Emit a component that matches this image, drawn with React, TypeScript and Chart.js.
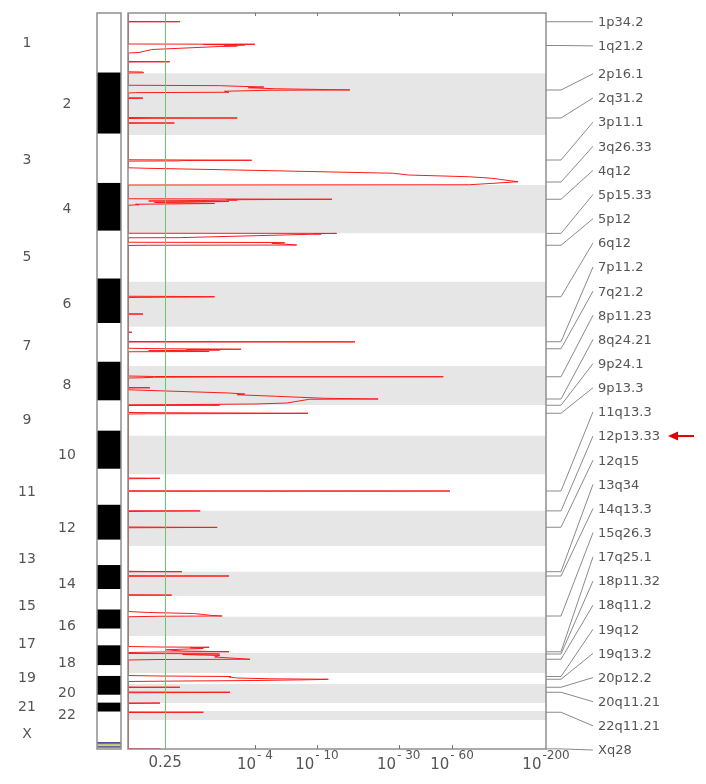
import React, { useEffect, useRef } from 'react';
import { Chart, registerables } from 'chart.js';
Chart.register(...registerables);

// Chromosomes and their plotted lengths (Mb, as drawn)
const chromNames = ['1', '2', '3', '4', '5', '6', '7', '8', '9', '10', '11', '12', '13', '14', '15', '16', '17', '18', '19', '20', '21', '22', 'X'];
const chromLength = [241, 247, 200, 193, 194, 180, 157, 156, 123, 154, 146, 141, 103, 97, 83, 77, 68, 80, 44, 76, 32, 36, 116];

// Amplification profiles: [position within chromosome (Mb), -log10(q)]
const amp1 = [[0, 0], [34, 0], [34.8, 0.93], [35.5, 0], [124, 0], [125, 4.0], [126, 1.6], [128, 3.4], [130, 2.4], [132, 3.0], [134, 2.2], [138, 1.4], [146, 0.35], [158, 0.15], [160, 0], [194, 0], [195, 0.7], [196, 0], [235, 0], [236, 0.2], [239, 0.22], [240, 0], [241, 0]];
const amp2 = [[0, 0], [48, 0], [49.6, 2.2], [52, 3.0], [55, 4.6], [58, 3.6], [62, 5.5], [66.8, 15.7], [68, 5.0], [72, 2.4], [76, 2.6], [77.6, 0.1], [79, 0], [98, 0], [98.8, 0.21], [100, 0.2], [101, 0], [177, 0], [178, 0.5], [179, 3.0], [180, 0.4], [181, 0], [198, 0], [199, 0.8], [200, 0], [247, 0]];
const amp3 = [[0, 0], [99, 0], [100, 1.2], [101, 3.8], [102, 1.0], [103.5, 0.9], [104.5, 0], [131, 0], [133, 0.25], [140, 3.0], [153, 28], [160, 34], [167, 75], [173, 100], [187, 140], [199, 75], [200, 0]];
const amp4 = [[0, 0], [55, 0], [57, 12.3], [57.5, 8.0], [58, 5.5], [59, 2.5], [60, 3.0], [62, 1.5], [64, 0.3], [66, 2.6], [70, 0.4], [74, 2.0], [77, 0.1], [79, 0.15], [81, 0], [193, 0]];
const amp5 = [[0, 0], [0.5, 13.1], [2, 9.5], [3, 10.6], [17.6, 0.93], [18, 0], [36, 0], [37, 5.2], [38, 6.3], [40, 5.2], [47, 7.5], [48, 0.3], [49, 0], [194, 0]];
const amp6 = [[0, 0], [58, 0], [59, 1.2], [60, 2.0], [61, 1.5], [62, 0.4], [63, 0], [128, 0], [129, 0.21], [130, 0], [180, 0]];
const amp7 = [[0, 0], [21, 0], [22, 0.05], [23, 0], [59, 0], [60, 3.8], [60.5, 16.8], [61, 0], [86, 0], [87, 0.2], [88, 0.6], [89, 1.6], [90, 3.2], [91, 1.1], [93, 2.2], [96, 0.3], [99, 1.8], [100, 0], [157, 0]];
const amp8 = [[0, 0], [40, 0], [42, 0.4], [43, 53.6], [43.5, 9.0], [44, 1.9], [45, 0.4], [47, 0.2], [48, 0], [86, 0], [87, 0.32], [88, 0], [95, 0], [96, 0.1], [108, 2.6], [112, 3.4], [115, 3.0], [121, 5.5], [129, 11], [132, 22.9], [133, 9.0], [148, 6.5], [152, 4.0], [155, 0.6], [156, 0]];
const amp9 = [[0, 0], [0.5, 2.2], [1.5, 0.2], [2, 0], [30, 0], [31, 0.7], [33, 8.8], [34, 6.3], [35, 0.3], [36, 0], [123, 0]];
const amp10 = [[0, 0], [154, 0]];
const amp11 = [[0, 0], [15, 0], [16, 0.5], [17, 0.3], [18, 0], [66, 0], [66.5, 0.8], [67, 58.4], [67.5, 30], [68, 0], [146, 0]];
const amp12 = [[0, 0], [0.5, 1.5], [2, 0.4], [3, 0], [65, 0], [66, 0.9], [66.5, 2.1], [67, 1.2], [68, 0], [141, 0]];
const amp13 = [[0, 0], [101, 0], [102, 0.3], [102.8, 0.98], [103, 0]];
const amp14 = [[0, 0], [16, 0], [17, 2.6], [18, 0], [92, 0], [93, 0.5], [93.5, 0.74], [94, 0], [97, 0]];
const amp15 = [[0, 0], [62, 0], [66, 0.3], [70, 1.3], [74, 1.6], [78, 1.9], [80, 2.3], [81, 0.5], [83, 0]];
const amp16 = [[0, 0], [77, 0]];
const amp17 = [[0, 0], [42, 0], [44, 0.5], [45, 1.8], [47, 1.2], [50, 1.6], [55, 0.6], [60, 1.0], [63, 2.6], [64, 0.5], [66, 0], [68, 0]];
const amp18 = [[0, 0], [2, 0], [3, 2.0], [4, 2.2], [6, 1.0], [10, 2.2], [16, 2.0], [25, 3.7], [26, 0.5], [28, 0], [80, 0]];
const amp19 = [[0, 0], [10, 0], [12, 0.5], [14, 2.7], [16, 2.6], [20, 3.0], [23, 5.0], [25, 11.7], [27, 9.0], [30, 4.0], [32, 1.0], [34, 0], [44, 0]];
const amp20 = [[0, 0], [12, 0], [12.5, 0.16], [13, 0.93], [14, 0], [32, 0], [33, 2.65], [34, 1.25], [35, 0], [76, 0]];
const amp21 = [[0, 0], [0.3, 0.5], [1, 0.24], [2, 0], [32, 0]];
const amp22 = [[0, 0], [4, 0], [5, 1.6], [6, 0], [36, 0]];
const ampX = [[0, 0], [114, 0], [115, 0.5], [116, 0.5]];
const profiles = [amp1, amp2, amp3, amp4, amp5, amp6, amp7, amp8, amp9, amp10, amp11, amp12, amp13, amp14, amp15, amp16, amp17, amp18, amp19, amp20, amp21, amp22, ampX];

// Peak (cytoband) labels
const peakNames = ['1p34.2', '1q21.2', '2p16.1', '2q31.2', '3p11.1', '3q26.33', '4q12', '5p15.33', '5p12', '6q12', '7p11.2', '7q21.2', '8p11.23', '8q24.21', '9p24.1', '9p13.3', '11q13.3', '12p13.33', '12q15', '13q34', '14q13.3', '15q26.3', '17q25.1', '18p11.32', '18q11.2', '19q12', '19q13.2', '20p12.2', '20q11.21', '22q11.21', 'Xq28'];
const peakChrom = [1, 1, 2, 2, 3, 3, 4, 5, 5, 6, 7, 7, 8, 8, 9, 9, 11, 12, 12, 13, 14, 15, 17, 18, 18, 19, 19, 20, 20, 22, 23];
const peakPos = [35, 130, 67, 179, 100, 188, 57, 0.5, 48, 60, 60, 88, 43, 132, 1, 33, 67, 0.5, 66, 102.8, 17, 80, 63, 4, 25, 14, 25, 13, 33, 5, 115.5];
const highlightedPeak = '12p13.33';

// q-value axis
const tickQ = [0.25, 1e-4, 1e-10, 1e-30, 1e-60, 1e-200];
const tickBase = ['0.25', '10', '10', '10', '10', '10'];
const tickExp = ['', '- 4', '- 10', '- 30', '- 60', '-200'];
const thresholdQ = 0.25;
const maxScore = 200;

const toX = (score: number) => Math.log10(1 + score);
const qToX = (q: number) => toX(-Math.log10(q));

export default function App() {
  const ref = useRef<HTMLCanvasElement>(null);
  useEffect(() => {
    if (!ref.current) return;
    const starts: number[] = [];
    let acc = 0;
    chromLength.forEach((l) => { starts.push(acc); acc += l; });
    const total = acc;

    const datasets = profiles.map((p, i) => ({
      label: chromNames[i],
      data: p.map(([pos, s]) => ({ x: toX(s), y: starts[i] + pos })),
      showLine: true,
      borderColor: '#ff1a1a',
      borderWidth: 1,
      pointRadius: 0,
      tension: 0,
      fill: false,
    }));

    const font = (size: number) => `${size}px "DejaVu Sans", Arial, sans-serif`;

    const plugin = {
      id: 'gistic',
      beforeDatasetsDraw(chart: any) {
        const { ctx, chartArea: a, scales } = chart;
        const ys = scales.y;
        ctx.save();
        ctx.fillStyle = '#e6e6e6';
        chromLength.forEach((l, i) => {
          if (i % 2 === 1) {
            const y0 = ys.getPixelForValue(starts[i]);
            const y1 = ys.getPixelForValue(starts[i] + l);
            ctx.fillRect(a.left, y0, a.right - a.left, y1 - y0);
          }
        });
        ctx.restore();
      },
      afterDatasetsDraw(chart: any) {
        const { ctx, chartArea: a, scales } = chart;
        const xs = scales.x;
        const ys = scales.y;
        ctx.save();
        // threshold line
        const tx = Math.round(xs.getPixelForValue(qToX(thresholdQ))) + 0.5;
        ctx.strokeStyle = '#6cc46c';
        ctx.lineWidth = 1;
        ctx.beginPath();
        ctx.moveTo(tx, a.top);
        ctx.lineTo(tx, a.bottom);
        ctx.stroke();

        // frame
        ctx.strokeStyle = '#8f8f8f';
        ctx.lineWidth = 1.5;
        ctx.strokeRect(a.left, a.top, a.right - a.left, a.bottom - a.top);

        // ticks
        ctx.lineWidth = 1;
        ctx.strokeStyle = '#777';
        tickQ.forEach((q, i) => {
          const px = Math.round(xs.getPixelForValue(qToX(q))) + 0.5;
          if (i > 0 && i < tickQ.length - 1) {
            ctx.beginPath();
            ctx.moveTo(px, a.bottom);
            ctx.lineTo(px, a.bottom - 4);
            ctx.stroke();
            ctx.beginPath();
            ctx.moveTo(px, a.top);
            ctx.lineTo(px, a.top + 3);
            ctx.stroke();
          }
        });

        // tick labels
        ctx.fillStyle = '#555';
        ctx.textBaseline = 'middle';
        tickQ.forEach((q, i) => {
          const px = xs.getPixelForValue(qToX(q));
          ctx.font = font(15);
          const wb = ctx.measureText(tickBase[i]).width;
          if (!tickExp[i]) {
            ctx.textAlign = 'center';
            ctx.fillText(tickBase[i], px, 763);
          } else {
            ctx.font = font(12);
            const we = ctx.measureText(tickExp[i]).width;
            const start = px - (wb + we + 1) / 2;
            ctx.textAlign = 'left';
            ctx.font = font(15);
            ctx.fillText(tickBase[i], start, 765);
            ctx.font = font(12);
            ctx.fillText(tickExp[i], start + wb + 1, 756);
          }
        });

        // ideogram
        const ix0 = 97, ix1 = 121;
        const k = 0.988;
        const ideoY = (v: number) => a.top + (ys.getPixelForValue(v) - a.top) * k;
        ctx.fillStyle = '#000';
        chromLength.forEach((l, i) => {
          if (i % 2 === 1) {
            const y0 = ideoY(starts[i]);
            const y1 = ideoY(starts[i] + l);
            ctx.fillRect(ix0, y0, ix1 - ix0, y1 - y0);
          }
        });
        const ideoEnd = ideoY(total);
        const stripes = ['#2b2b8a', '#b5b54a', '#4a4a90'];
        stripes.forEach((c, j) => {
          ctx.fillStyle = c;
          ctx.fillRect(ix0, ideoEnd + 2 + j * 2, ix1 - ix0, 1.5);
        });
        ctx.strokeStyle = '#8f8f8f';
        ctx.lineWidth = 1.5;
        ctx.strokeRect(ix0, a.top, ix1 - ix0, a.bottom - a.top);

        // chromosome labels
        ctx.fillStyle = '#555';
        ctx.font = font(14);
        ctx.textAlign = 'center';
        ctx.textBaseline = 'middle';
        chromNames.forEach((n, i) => {
          const yc = ys.getPixelForValue(starts[i] + chromLength[i] / 2);
          ctx.fillText(n, i % 2 === 0 ? 27 : 67, yc);
        });

        // peak labels with connectors
        const ideal = peakPos.map((p, i) => ys.getPixelForValue(starts[peakChrom[i] - 1] + p));
        const gap = 24.15;
        const ly = ideal.slice();
        for (let i = 1; i < ly.length; i++) ly[i] = Math.max(ly[i], ly[i - 1] + gap);
        ly[ly.length - 1] = Math.min(ly[ly.length - 1], a.bottom + 1);
        for (let i = ly.length - 2; i >= 0; i--) ly[i] = Math.min(ly[i], ly[i + 1] - gap);
        ctx.strokeStyle = '#8a8a8a';
        ctx.lineWidth = 1;
        ctx.font = font(13);
        ctx.textAlign = 'left';
        ctx.fillStyle = '#555';
        peakNames.forEach((n, i) => {
          ctx.beginPath();
          ctx.moveTo(a.right, ideal[i]);
          ctx.lineTo(a.right + 15, ideal[i]);
          ctx.lineTo(a.right + 47, ly[i]);
          ctx.stroke();
          ctx.fillText(n, a.right + 52, ly[i] + 1);
          if (n === highlightedPeak) {
            const yA = ly[i];
            const tip = 668;
            ctx.strokeStyle = '#e00000';
            ctx.lineWidth = 2;
            ctx.beginPath();
            ctx.moveTo(tip + 6, yA);
            ctx.lineTo(tip + 26, yA);
            ctx.stroke();
            ctx.fillStyle = '#e00000';
            ctx.beginPath();
            ctx.moveTo(tip, yA);
            ctx.lineTo(tip + 10, yA - 4.5);
            ctx.lineTo(tip + 10, yA + 4.5);
            ctx.closePath();
            ctx.fill();
            ctx.strokeStyle = '#8a8a8a';
            ctx.lineWidth = 1;
            ctx.fillStyle = '#555';
          }
        });
        ctx.restore();
      },
    };

    const chart = new Chart(ref.current, {
      type: 'scatter',
      data: { datasets } as any,
      options: {
        responsive: false,
        animation: false,
        devicePixelRatio: 1,
        layout: { padding: { left: 128, right: 160, top: 13, bottom: 35 } },
        plugins: { legend: { display: false }, tooltip: { enabled: false } },
        scales: {
          x: { type: 'linear', min: 0, max: toX(maxScore), display: false },
          y: { type: 'linear', min: 0, max: total, reverse: true, display: false },
        },
      } as any,
      plugins: [plugin],
    });
    return () => chart.destroy();
  }, []);
  return (
    <div style={{ position: 'fixed', left: 0, top: 0, width: 706, height: 784, background: '#fff' }}>
      <canvas ref={ref} width={706} height={784} />
    </div>
  );
}
